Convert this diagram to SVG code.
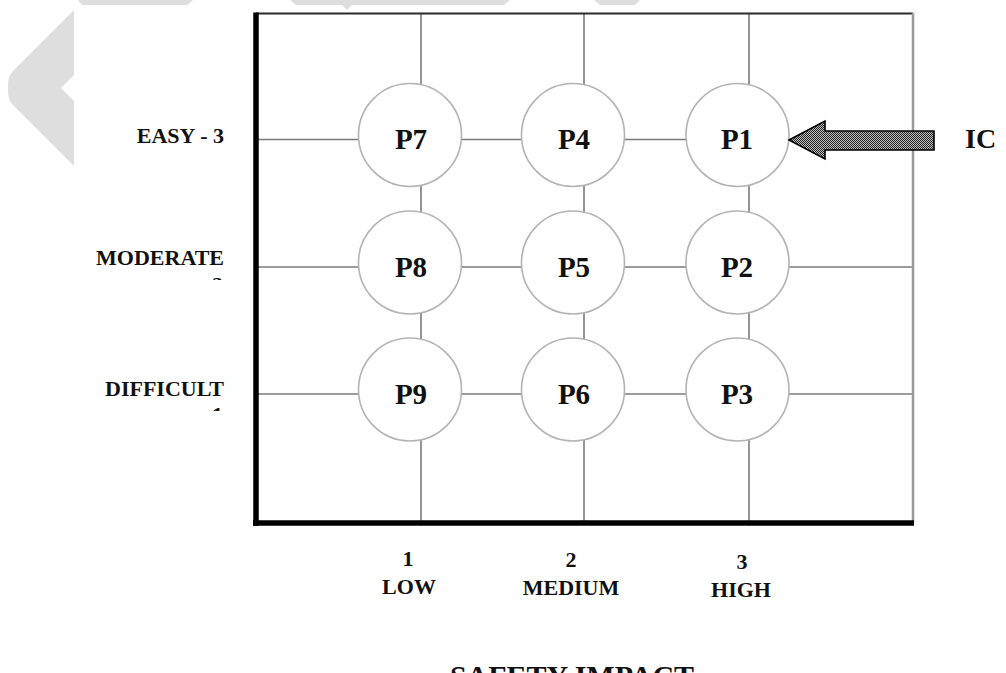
<svg xmlns="http://www.w3.org/2000/svg" width="1006" height="673" viewBox="0 0 1006 673">
  <defs>
    <style>
      .lbl { font-family: "Liberation Serif", "Times New Roman", serif; font-weight: bold; fill: #111; }
      .axis { font-size: 22px; }
      .node-text { font-size: 29px; text-anchor: middle; }
      .grid { stroke: #7a7a7a; stroke-width: 1.6; fill: none; }
      .node-circle { fill: #fff; stroke: #b3b3b3; stroke-width: 1.6; }
      .wm { fill: #dedede; }
    </style>
    <!-- fine stipple used to fill the block arrow -->
    <pattern id="stipple" width="2" height="2" patternUnits="userSpaceOnUse">
      <rect width="2" height="2" fill="#c4c4c4"/>
      <rect x="0" y="0" width="1" height="1" fill="#1e1e1e"/>
      <rect x="1" y="1" width="1" height="1" fill="#1e1e1e"/>
    </pattern>
    <clipPath id="cut2"><rect x="200" y="272" width="30" height="8"/></clipPath>
    <clipPath id="cut1"><rect x="200" y="402" width="30" height="9"/></clipPath>
  </defs>

  <rect width="1006" height="673" fill="#fff"/>

  <!-- light grey background marks -->
  <g id="watermark">
    <path class="wm" d="M74,10 L14,70 Q8,76 8,84 L8,92 Q8,100 14,106 L74,166 L74,101 L61,88 L74,75 Z"/>
    <polygon class="wm" points="78,0 193,0 187,5 82,5"/>
    <polygon class="wm" points="290,0 510,0 504,5 352,5 347,10 342,5 296,5"/>
    <polygon class="wm" points="594,0 640,0 635,5 600,5"/>
  </g>

  <!-- grid lines linking the nodes -->
  <g id="connectors">
    <line class="grid" x1="421" y1="14" x2="421" y2="523"/>
    <line class="grid" x1="584" y1="14" x2="584" y2="523"/>
    <line class="grid" x1="749" y1="14" x2="749" y2="523"/>
    <line class="grid" x1="258" y1="139.5" x2="913" y2="139.5"/>
    <line class="grid" x1="258" y1="267" x2="913" y2="267"/>
    <line class="grid" x1="258" y1="394" x2="913" y2="394"/>
  </g>

  <!-- frame -->
  <g id="frame">
    <line x1="256" y1="13.5" x2="913" y2="13.5" stroke="#2a2a2a" stroke-width="2"/>
    <line x1="913" y1="13" x2="913" y2="523" stroke="#9a9a9a" stroke-width="2.5"/>
    <line x1="256" y1="12.5" x2="256" y2="526" stroke="#000" stroke-width="5.5"/>
    <line x1="253" y1="523" x2="914" y2="523" stroke="#000" stroke-width="5.5"/>
  </g>

  <!-- nodes -->
  <g id="P7"><circle class="node-circle" cx="410" cy="135" r="51.5"/><text class="lbl node-text" x="411" y="149">P7</text></g>
  <g id="P4"><circle class="node-circle" cx="573" cy="135" r="51.5"/><text class="lbl node-text" x="574" y="149">P4</text></g>
  <g id="P1"><circle class="node-circle" cx="737.5" cy="135" r="51.5"/><text class="lbl node-text" x="737" y="149">P1</text></g>

  <g id="P8"><circle class="node-circle" cx="410" cy="262.5" r="51.5"/><text class="lbl node-text" x="411" y="276.5">P8</text></g>
  <g id="P5"><circle class="node-circle" cx="573" cy="262.5" r="51.5"/><text class="lbl node-text" x="574" y="276.5">P5</text></g>
  <g id="P2"><circle class="node-circle" cx="737.5" cy="262.5" r="51.5"/><text class="lbl node-text" x="737" y="276.5">P2</text></g>

  <g id="P9"><circle class="node-circle" cx="410" cy="389.5" r="51.5"/><text class="lbl node-text" x="411" y="403.5">P9</text></g>
  <g id="P6"><circle class="node-circle" cx="573" cy="389.5" r="51.5"/><text class="lbl node-text" x="574" y="403.5">P6</text></g>
  <g id="P3"><circle class="node-circle" cx="737.5" cy="389.5" r="51.5"/><text class="lbl node-text" x="737" y="403.5">P3</text></g>

  <!-- IC entry arrow -->
  <g id="IC">
    <polygon points="789,140 825,121 825,131 934,131 934,150 825,150 825,159" fill="url(#stipple)" stroke="#000" stroke-width="1.6" stroke-linejoin="miter"/>
    <text class="lbl" x="965" y="148" font-size="28">IC</text>
  </g>

  <!-- vertical axis labels -->
  <g id="y-axis" class="lbl axis" text-anchor="end">
    <text x="224" y="143">EASY - 3</text>
    <text x="224" y="265">MODERATE</text>
    <text x="223" y="292" clip-path="url(#cut2)">2</text>
    <text x="224" y="396">DIFFICULT</text>
    <text x="223" y="422" clip-path="url(#cut1)">1</text>
  </g>

  <!-- horizontal axis labels -->
  <g id="x-axis" class="lbl axis" text-anchor="middle">
    <text x="408" y="566">1</text>
    <text x="409" y="594">LOW</text>
    <text x="571" y="567">2</text>
    <text x="571" y="595">MEDIUM</text>
    <text x="742" y="569">3</text>
    <text x="741" y="597">HIGH</text>
    <!-- title runs past the lower edge, only its upper part shows -->
    <text x="572" y="686" font-size="30">SAFETY IMPACT</text>
  </g>
</svg>
